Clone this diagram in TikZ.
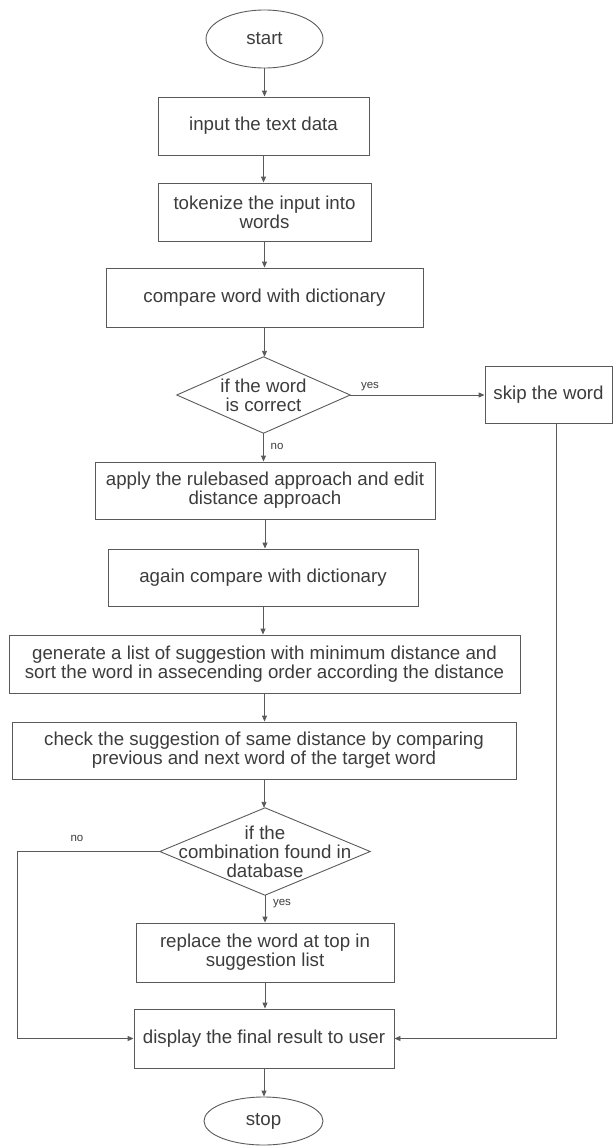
\documentclass[tikz,border=0pt]{standalone}
\usepackage{fontspec}
\setmainfont{Liberation Sans}
\usetikzlibrary{arrows.meta,shapes.geometric}
\definecolor{edge}{HTML}{5A5A5A}
\definecolor{ink}{HTML}{3C3C3C}
\begin{document}
\begin{tikzpicture}[x=1pt,y=-1pt,
  every node/.style={text=ink,font=\fontsize{18.7}{19}\selectfont,align=center,inner sep=0pt},
  procbox/.style={draw=edge,line width=0.9pt,rectangle},
  termin/.style={draw=edge,line width=0.9pt,ellipse},
  decbox/.style={rectangle,draw=none},
  flow/.style={draw=edge,line width=0.9pt,-{Triangle[length=6pt,width=5pt]}},
  plain/.style={draw=edge,line width=0.9pt},
  lbl/.style={font=\fontsize{11.5}{12}\selectfont}]
\useasboundingbox (0,0) rectangle (613,1146);

% terminals, steps and decisions
\node[termin,minimum width=117,minimum height=58] (start) at (264.5,39) {start};
\node[procbox,minimum width=211,minimum height=58] (input) at (263.5,126) {input the text data};
\node[procbox,minimum width=213,minimum height=58] (token) at (264.5,212) {tokenize the input into\\words};
\node[procbox,minimum width=317,minimum height=59] (cmp) at (264.5,297.5) {compare word with dictionary};
\node[decbox,minimum width=173,minimum height=76] (d1) at (263.5,395) {if the word\\is correct};
\draw[plain] (d1.north) -- (d1.east) -- (d1.south) -- (d1.west) -- cycle;
\node[procbox,minimum width=127,minimum height=57] (skip) at (548.5,394.5) {skip the word};
\node[procbox,minimum width=340,minimum height=57] (apply) at (265,490.5) {apply the rulebased approach and edit\\distance approach};
\node[procbox,minimum width=310,minimum height=57] (again) at (263,577.5) {again compare with dictionary};
\node[procbox,minimum width=511,minimum height=58] (gen) at (264.5,664) {generate a list of suggestion with minimum distance and\\sort the word in assecending order according the distance};
\node[procbox,minimum width=504,minimum height=57] (check) at (264,750.5) {check the suggestion of same distance by comparing\\previous and next word of the target word};
\node[decbox,minimum width=210,minimum height=87] (d2) at (265,851.5) {if the\\combination found in\\database};
\draw[plain] (d2.north) -- (d2.east) -- (d2.south) -- (d2.west) -- cycle;
\node[procbox,minimum width=258,minimum height=59] (repl) at (265,952.5) {replace the word at top in\\suggestion list};
\node[procbox,minimum width=260,minimum height=59] (disp) at (264,1038.5) {display the final result to user};
\node[termin,minimum width=119,minimum height=48] (stop) at (263.5,1121) {stop};

% main column
\draw[flow] (start.south) -- (start.south |- input.north);
\draw[flow] (input.south) -- (input.south |- token.north);
\draw[flow] (token.south) -- (token.south |- cmp.north);
\draw[flow] (cmp.south) -- (cmp.south |- d1.north);
\draw[flow] (d1.east) -- (d1.east -| skip.west);
\node[lbl] (yes1) at (370,387) {yes};
\draw[flow] (d1.south) -- (d1.south |- apply.north);
\node[lbl] (no1) at (277,446) {no};
\draw[flow] (apply.south) -- (apply.south |- again.north);
\draw[flow] (again.south) -- (again.south |- gen.north);
\draw[flow] (gen.south) -- (gen.south |- check.north);
\draw[flow] (check.south) -- (check.south |- d2.north);
\draw[flow] (d2.south) -- (d2.south |- repl.north);
\node[lbl] (yes2) at (282,904) {yes};
\draw[flow] (repl.south) -- (repl.south |- disp.north);
\draw[flow] (disp.south) -- (disp.south |- stop.north);

% side returns into the display step
\coordinate (nobend) at (17,851.5);
\draw[flow] (d2.west) -- (nobend) |- (disp.west);
\node[lbl] (no2) at (77,838) {no};
\coordinate (skipfoot) at ([xshift=7.5pt]skip.south);
\draw[flow] (skipfoot) |- (disp.east);
\end{tikzpicture}
\end{document}
